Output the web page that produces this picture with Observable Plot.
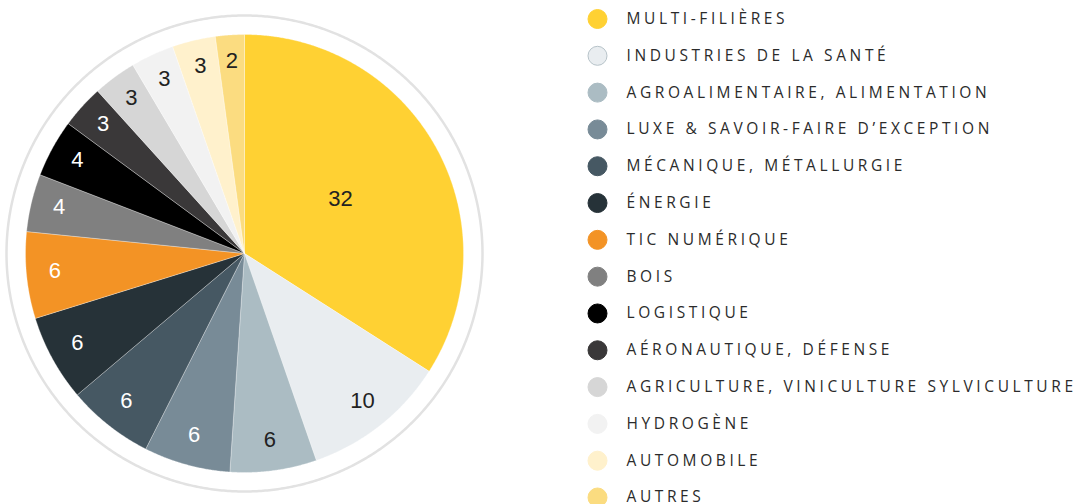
<!DOCTYPE html>
<html><head><meta charset="utf-8">
<script src="https://cdn.jsdelivr.net/npm/d3@7"></script>
<script src="https://cdn.jsdelivr.net/npm/@observablehq/plot@0.6"></script>
<style>
body{margin:0;background:#fff;}
#wrap{display:flex;width:1084px;height:504px;overflow:hidden;}
#wrap svg{overflow:visible;}
</style>
</head><body><div id="wrap"></div>
<script>
const sectors = [
  "MULTI-FILIÈRES",
  "INDUSTRIES DE LA SANTÉ",
  "AGROALIMENTAIRE, ALIMENTATION",
  "LUXE & SAVOIR-FAIRE D’EXCEPTION",
  "MÉCANIQUE, MÉTALLURGIE",
  "ÉNERGIE",
  "TIC NUMÉRIQUE",
  "BOIS",
  "LOGISTIQUE",
  "AÉRONAUTIQUE, DÉFENSE",
  "AGRICULTURE, VINICULTURE SYLVICULTURE",
  "HYDROGÈNE",
  "AUTOMOBILE",
  "AUTRES"
];
const counts = [32, 10, 6, 6, 6, 6, 6, 4, 4, 3, 3, 3, 3, 2];
const palette = ["#FFD133","#E9EDF0","#ABBCC3","#788B97","#465863","#263238","#F39325",
                 "#808080","#000000","#3A3839","#D6D6D6","#F2F2F2","#FFF1CC","#FBDC80"];
const labelInk = ["#222","#222","#222","#fff","#fff","#fff","#fff",
                  "#fff","#fff","#fff","#222","#222","#222","#222"];

const total = d3.sum(counts);
const arcs = d3.pie().sort(null).value(d => d)(counts);

// slice outlines in unit coordinates
const slicePts = [];
arcs.forEach((a, i) => {
  const n = Math.max(2, Math.ceil((a.endAngle - a.startAngle) / 0.005));
  slicePts.push({x: 0, y: 0, k: i, c: palette[i]});
  for (let j = 0; j <= n; j++) {
    const t = a.startAngle + (a.endAngle - a.startAngle) * j / n;
    slicePts.push({x: Math.sin(t), y: Math.cos(t), k: i, c: palette[i]});
  }
  slicePts.push({x: 0, y: 0, k: i, c: palette[i]});
});

const ringR = 238 / 219;
const ringPts = d3.range(0, 721).map(j => {
  const t = j / 720 * 2 * Math.PI;
  return {x: ringR * Math.sin(t), y: ringR * Math.cos(t)};
});

const labels = arcs.map((a, i) => {
  const m = (a.startAngle + a.endAngle) / 2;
  const r = counts[i] / total > 0.25 ? 0.50 : 0.87;
  return {x: r * Math.sin(m), y: r * Math.cos(m), v: String(counts[i]), ink: labelInk[i]};
});

const pie = Plot.plot({
  width: 560, height: 504,
  x: {domain: [-1, 1], range: [25, 463], axis: null},
  y: {domain: [-1, 1], range: [472, 34], axis: null},
  color: {type: "identity"},
  style: {background: "transparent"},
  marks: [
    Plot.line(ringPts, {x: "x", y: "y", stroke: "#e2e2e2", strokeWidth: 2.5}),
    Plot.line(slicePts, {x: "x", y: "y", z: "k", fill: "c", stroke: "#ffffff", strokeWidth: 0.5, strokeOpacity: 0.6, curve: "linear-closed"}),
    Plot.text(labels, {x: "x", y: "y", dy: -2, text: "v", fill: "ink", fontSize: 22, fontFamily: "Liberation Sans, Arial, sans-serif"})
  ]
});

const legend = Plot.plot({
  width: 524, height: 504,
  x: {domain: [0, 1], range: [37, 66], axis: null},
  y: {domain: [0, sectors.length - 1], range: [18.5, 497], axis: null},
  color: {type: "identity"},
  style: {fontFamily: "'Open Sans', sans-serif", letterSpacing: "3.6px"},
  marks: [
    Plot.dot(sectors, {x: () => 0, y: (d, i) => i, r: 9.5, fill: (d, i) => palette[i],
      stroke: (d, i) => i === 1 ? "#B7C3C9" : palette[i], strokeWidth: 1}),
    Plot.text(sectors, {x: () => 1, y: (d, i) => i, text: d => d, textAnchor: "start", fontSize: 15.5, fill: "#2b2b2b"})
  ]
});

document.getElementById("wrap").append(pie, legend);
</script>
</body></html>
